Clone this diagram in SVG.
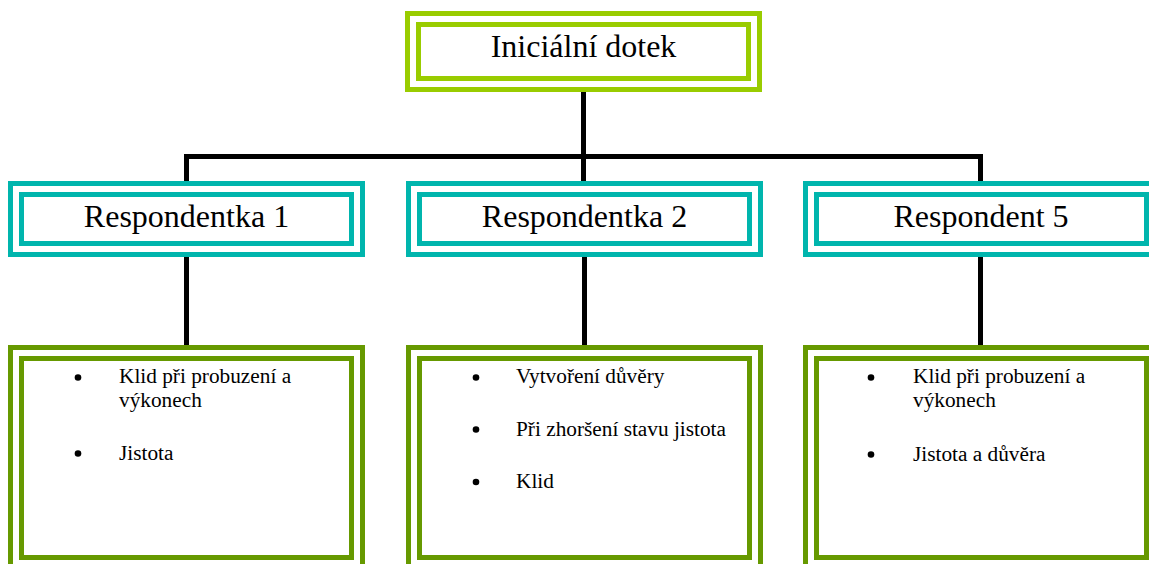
<svg xmlns="http://www.w3.org/2000/svg" width="1149" height="564" viewBox="0 0 1149 564">
  <style>
    .frame { fill: none; stroke-width: 5; }
    .lime { stroke: #99cc00; }
    .teal { stroke: #00b5ad; }
    .olive { stroke: #669900; }
    .title { font-family: "Liberation Serif", "Times New Roman", serif; font-size: 32px; fill: #000; text-anchor: middle; }
    .item { font-family: "Liberation Serif", "Times New Roman", serif; font-size: 21.3px; fill: #000; }
    .dot { fill: #000; }
    .link { fill: none; stroke: #000; stroke-width: 5; stroke-linejoin: miter; }
  </style>
  <rect width="1149" height="564" fill="#fff"/>

  <!-- connectors -->
  <g id="connectors">
    <path class="link" d="M583.5 92 V156.5"/>
    <path class="link" d="M186.5 181 V156.5 H980.5 V181"/>
    <path class="link" d="M583.5 156.5 V181"/>
    <path class="link" d="M186.5 257 V345"/>
    <path class="link" d="M584.5 257 V345"/>
    <path class="link" d="M980.5 257 V345"/>
  </g>

  <!-- root -->
  <g id="root">
    <rect class="frame lime" x="407.5" y="13.5" width="352" height="76"/>
    <rect class="frame lime" x="418.5" y="24.5" width="330" height="54"/>
    <text class="title" x="583.5" y="57">Iniciální dotek</text>
  </g>

  <!-- second level -->
  <g id="resp1">
    <rect class="frame teal" x="10.5" y="183.5" width="352" height="71"/>
    <rect class="frame teal" x="21.5" y="194.5" width="330" height="49"/>
    <text class="title" x="186.5" y="227">Respondentka 1</text>
  </g>
  <g id="resp2">
    <rect class="frame teal" x="408.5" y="183.5" width="352" height="71"/>
    <rect class="frame teal" x="419.5" y="194.5" width="330" height="49"/>
    <text class="title" x="584.5" y="227">Respondentka 2</text>
  </g>
  <g id="resp5">
    <rect class="frame teal" x="805.5" y="183.5" width="352" height="71"/>
    <rect class="frame teal" x="816.5" y="194.5" width="330" height="49"/>
    <text class="title" x="981" y="227">Respondent 5</text>
  </g>

  <!-- detail boxes -->
  <g id="detail1">
    <rect class="frame olive" x="10.5" y="347.5" width="352" height="230"/>
    <rect class="frame olive" x="21.5" y="358.5" width="330" height="199"/>
    <circle class="dot" cx="78" cy="377.5" r="3.3"/>
    <text class="item" x="119" y="383">Klid při probuzení a</text>
    <text class="item" x="119" y="407">výkonech</text>
    <circle class="dot" cx="78" cy="453.5" r="3.3"/>
    <text class="item" x="119" y="459.5">Jistota</text>
  </g>
  <g id="detail2">
    <rect class="frame olive" x="408.5" y="347.5" width="352" height="230"/>
    <rect class="frame olive" x="419.5" y="358.5" width="330" height="199"/>
    <circle class="dot" cx="476" cy="377.5" r="3.3"/>
    <text class="item" x="516" y="383">Vytvoření důvěry</text>
    <circle class="dot" cx="476" cy="429.5" r="3.3"/>
    <text class="item" x="516" y="435.5">Při zhoršení stavu jistota</text>
    <circle class="dot" cx="476" cy="482" r="3.3"/>
    <text class="item" x="516" y="488">Klid</text>
  </g>
  <g id="detail5">
    <rect class="frame olive" x="805.5" y="347.5" width="352" height="230"/>
    <rect class="frame olive" x="816.5" y="358.5" width="330" height="199"/>
    <circle class="dot" cx="871" cy="377.5" r="3.3"/>
    <text class="item" x="913" y="383">Klid při probuzení a</text>
    <text class="item" x="913" y="407">výkonech</text>
    <circle class="dot" cx="871" cy="454.5" r="3.3"/>
    <text class="item" x="913" y="460.5">Jistota a důvěra</text>
  </g>
</svg>
